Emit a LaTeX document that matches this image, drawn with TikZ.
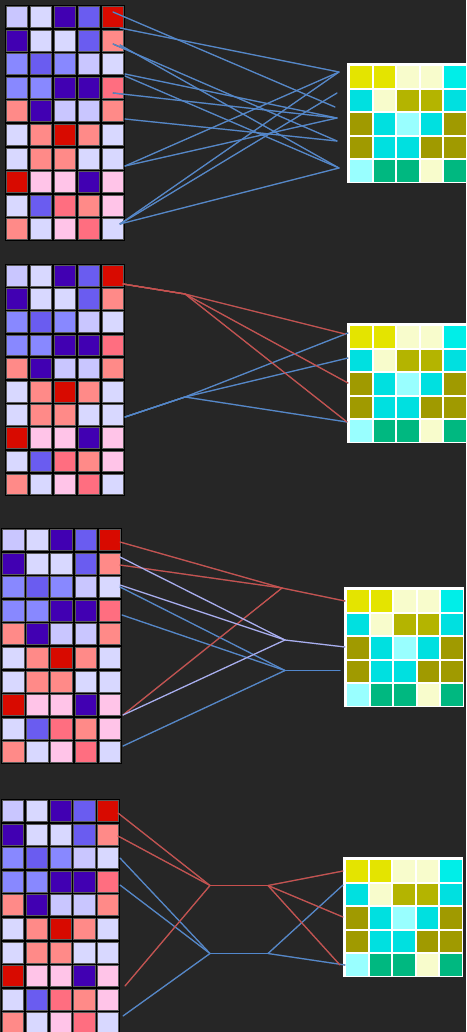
\documentclass[tikz,border=0pt]{standalone}
\usepackage{tikz}
\usetikzlibrary{positioning}
% background and wires
\definecolor{BGdark}{HTML}{262626}
\definecolor{WIREblue}{HTML}{5287CC}
\definecolor{WIREred}{HTML}{C8504E}
\definecolor{WIRElav}{HTML}{A8AEF2}
\definecolor{WIREshade}{HTML}{585858}
% heat map colours (left grids)
\definecolor{HMlav}{HTML}{C9C6FF}
\definecolor{HMpale}{HTML}{D8D8FF}
\definecolor{HMdeep}{HTML}{4100B2}
\definecolor{HMmid}{HTML}{6A5CF0}
\definecolor{HMperi}{HTML}{8888FF}
\definecolor{HMred}{HTML}{D80A00}
\definecolor{HMsalmon}{HTML}{FF8A88}
\definecolor{HMrose}{HTML}{FF6E80}
\definecolor{HMpink}{HTML}{FFC4E8}
% tile colours (right grids)
\definecolor{TLyellow}{HTML}{E4E400}
\definecolor{TLcream}{HTML}{F8FCCC}
\definecolor{TLcyan}{HTML}{00EEE8}
\definecolor{TLaqua}{HTML}{00E0E0}
\definecolor{TLolive}{HTML}{B4B400}
\definecolor{TLdark}{HTML}{A09A00}
\definecolor{TLice}{HTML}{99FFFF}
\definecolor{TLgreen}{HTML}{00B880}

\tikzset{
  heatcell/.style={draw=black!65, line width=0.7pt, inner sep=0pt, outer sep=0pt},
  tilecell/.style={minimum size=21.6pt, inner sep=0pt, outer sep=0pt},
  wire/.style={line width=1.2pt, line join=round, line cap=round},
  wireshade/.style={line width=1.2pt, draw=WIREshade, line join=round, shift={(0.8,3.2)}},
}

% 10x5 heat map: name, x, y, width, height
\newcommand{\heatgrid}[5]{%
  \fill[black] (#2,#3) rectangle ++(#4,#5);
  \pgfmathsetmacro\cellw{#4/5-2.6}
  \pgfmathsetmacro\cellh{#5/10-2.6}
  \foreach \clr [count=\i from 0] in {
      HMlav,HMpale,HMdeep,HMmid,HMred,
      HMdeep,HMpale,HMpale,HMmid,HMsalmon,
      HMperi,HMmid,HMperi,HMlav,HMpale,
      HMperi,HMperi,HMdeep,HMdeep,HMrose,
      HMsalmon,HMdeep,HMlav,HMlav,HMsalmon,
      HMpale,HMsalmon,HMred,HMsalmon,HMpale,
      HMpale,HMsalmon,HMsalmon,HMpale,HMpale,
      HMred,HMpink,HMpink,HMdeep,HMpink,
      HMpale,HMmid,HMrose,HMsalmon,HMpink,
      HMsalmon,HMpale,HMpink,HMrose,HMpale}{
    \pgfmathtruncatemacro\gridrow{\i/5}
    \pgfmathtruncatemacro\gridcol{\i-5*\gridrow}
    \pgfmathsetmacro\cellx{#2+(\gridcol+0.5)*#4/5}
    \pgfmathsetmacro\celly{#3+(\gridrow+0.5)*#5/10}
    \node[heatcell, fill=\clr, minimum width=\cellw pt, minimum height=\cellh pt]
      (#1-\i) at (\cellx,\celly) {};
  }
}

% 5x5 tile grid: name, x, y
\newcommand{\tilegrid}[3]{%
  \fill[white] (#2,#3) rectangle ++(120,120);
  \foreach \clr [count=\i from 0] in {
      TLyellow,TLyellow,TLcream,TLcream,TLcyan,
      TLaqua,TLcream,TLolive,TLolive,TLaqua,
      TLdark,TLaqua,TLice,TLaqua,TLdark,
      TLdark,TLaqua,TLaqua,TLdark,TLdark,
      TLice,TLgreen,TLgreen,TLcream,TLgreen}{
    \pgfmathtruncatemacro\gridrow{\i/5}
    \pgfmathtruncatemacro\gridcol{\i-5*\gridrow}
    \pgfmathsetmacro\cellx{#2+2+(\gridcol+0.5)*23.6}
    \pgfmathsetmacro\celly{#3+2+(\gridrow+0.5)*23.6}
    \node[tilecell, fill=\clr] (#1-\i) at (\cellx,\celly) {};
  }
}

\begin{document}
\begin{tikzpicture}[x=1pt, y=-1pt]
  \useasboundingbox (0,0) rectangle (466,1032);
  \fill[BGdark] (0,0) rectangle (466,1032);

  % Grids
  \heatgrid{heatA}{5}{5}{120}{236}
  \tilegrid{tileA}{347}{63}
  \heatgrid{heatB}{5}{264}{120}{232}
  \tilegrid{tileB}{347}{323}
  \heatgrid{heatC}{1}{528}{121}{236}
  \tilegrid{tileC}{344}{587}
  \heatgrid{heatD}{1}{799}{119}{236}
  \tilegrid{tileD}{343}{857}

  % Panel A: direct wires
  \coordinate (a1) at (113,12);  \coordinate (a2) at (120,28);
  \coordinate (a3) at (113,44);  \coordinate (a4) at (120,45);
  \coordinate (a5) at (125,74);  \coordinate (a6) at (125,76);
  \coordinate (a7) at (113,93);  \coordinate (a8) at (125,119);
  \coordinate (a9) at (125,166); \coordinate (a10) at (120,224);
  \coordinate (ta1) at (339,72);  \coordinate (ta2) at (337,93);
  \coordinate (ta3) at (335,107); \coordinate (ta4) at (337,118);
  \coordinate (ta5) at (337,141); \coordinate (ta6) at (339,168);
  \foreach \s/\t in {a1/ta3, a2/ta1, a3/ta5, a4/ta6, a5/ta4, a6/ta6, a7/ta4,
                     a8/ta5, a9/ta1, a9/ta4, a10/ta1, a10/ta2, a10/ta6}
    \draw[wireshade] (\s) -- (\t);
  \foreach \s/\t in {a1/ta3, a2/ta1, a3/ta5, a4/ta6, a5/ta4, a6/ta6, a7/ta4,
                     a8/ta5, a9/ta1, a9/ta4, a10/ta1, a10/ta2, a10/ta6}
    \draw[wire, WIREblue] (\s) -- (\t);

  % Panel B: one hub per colour
  \coordinate (br0) at (123,284); \coordinate (brh) at (185,294);
  \coordinate (br1) at (345,334); \coordinate (br2) at (348,383);
  \coordinate (br3) at (347,422);
  \coordinate (bb0) at (125,417); \coordinate (bbh) at (185,397);
  \coordinate (bb1) at (348,333); \coordinate (bb2) at (348,358);
  \coordinate (bb3) at (347,422);
  \foreach \t in {br1, br2, br3} \draw[wireshade] (br0) -- (brh) -- (\t);
  \foreach \t in {bb1, bb2, bb3} \draw[wireshade] (bb0) -- (bbh) -- (\t);
  \foreach \t in {bb1, bb2, bb3} \draw[wire, WIREblue] (bb0) -- (bbh) -- (\t);
  \foreach \t in {br1, br2, br3} \draw[wire, WIREred] (br0) -- (brh) -- (\t);

  % Panel C: three hubs, one output each
  \coordinate (cr1) at (120,542); \coordinate (cr2) at (120,565);
  \coordinate (cr3) at (123,715); \coordinate (crh) at (282,588);
  \coordinate (crt) at (345,601);
  \coordinate (cl1) at (120,557); \coordinate (cl2) at (120,585);
  \coordinate (cl3) at (123,715); \coordinate (clh) at (285,640);
  \coordinate (clt) at (345,647);
  \coordinate (cb1) at (120,587); \coordinate (cb2) at (122,615);
  \coordinate (cb3) at (123,746); \coordinate (cbh) at (285,670.5);
  \coordinate (cbt) at (340,670.5);
  \foreach \h in {cr, cl, cb}{
    \foreach \k in {1,2,3} \draw[wireshade] (\h\k) -- (\h h);
    \draw[wireshade] (\h h) -- (\h t);
  }
  \foreach \h/\clr in {cb/WIREblue, cr/WIREred, cl/WIRElav}{
    \foreach \k in {1,2,3} \draw[wire, \clr] (\h\k) -- (\h h);
    \draw[wire, \clr] (\h h) -- (\h t);
  }

  % Panel D: two-stage hubs
  \coordinate (dr1) at (118,813); \coordinate (dr2) at (118,836);
  \coordinate (dr3) at (125,986);
  \coordinate (drh) at (210,885.5); \coordinate (drk) at (268,885.5);
  \coordinate (drt1) at (343,871); \coordinate (drt2) at (343,917);
  \coordinate (drt3) at (340,965);
  \coordinate (db1) at (120,858); \coordinate (db2) at (120,885);
  \coordinate (db3) at (123,1016);
  \coordinate (dbh) at (210,953.5); \coordinate (dbk) at (268,953.5);
  \coordinate (dbt1) at (343,885); \coordinate (dbt2) at (345,965);
  \foreach \k in {1,2,3} \draw[wireshade] (dr\k) -- (drh);
  \foreach \k in {1,2,3} \draw[wireshade] (db\k) -- (dbh);
  \draw[wireshade] (drh) -- (drk);
  \draw[wireshade] (dbh) -- (dbk);
  \foreach \k in {1,2,3} \draw[wireshade] (drk) -- (drt\k);
  \foreach \k in {1,2} \draw[wireshade] (dbk) -- (dbt\k);
  \foreach \k in {1,2,3} \draw[wire, WIREblue] (db\k) -- (dbh);
  \draw[wire, WIREblue] (dbh) -- (dbk);
  \foreach \k in {1,2} \draw[wire, WIREblue] (dbk) -- (dbt\k);
  \foreach \k in {1,2,3} \draw[wire, WIREred] (dr\k) -- (drh);
  \draw[wire, WIREred] (drh) -- (drk);
  \foreach \k in {1,2,3} \draw[wire, WIREred] (drk) -- (drt\k);
\end{tikzpicture}
\end{document}
